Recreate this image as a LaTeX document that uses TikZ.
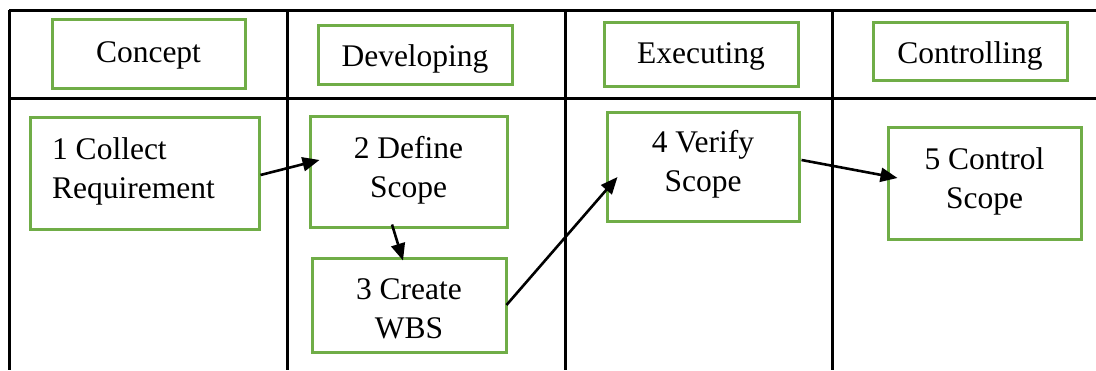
\documentclass[tikz,border=0pt]{standalone}
\usepackage{fontspec}
\setmainfont{Liberation Serif}
\usetikzlibrary{arrows.meta,calc}
\definecolor{boxgreen}{HTML}{70AD47}
\newcommand{\bt}[4]{\raisebox{#2}[0pt][0pt]{\makebox[0pt][c]{\hspace{#1}\begin{tabular}{@{}#3@{}}#4\end{tabular}\hspace{-#1}}}}
\begin{document}
\begin{tikzpicture}[x=1pt,y=-1pt,
  gbox/.style={draw=boxgreen,line width=3pt,rectangle,inner sep=0pt,
    font=\fontsize{31.5pt}{39pt}\selectfont},
  grid/.style={draw=black,line width=3pt},
  flow/.style={draw=black,line width=2.6pt,-{Triangle[length=17pt,width=14pt]}}]
\useasboundingbox (0,0) rectangle (1096,370);
% table lines
\draw[grid] (9,10) -- (1096,10);
\draw[grid] (9,98) -- (1096,98);
\draw[grid] (9,10) -- (9,370);
\draw[grid] (287,10) -- (287,370);
\draw[grid] (565,10) -- (565,370);
\draw[grid] (832,10) -- (832,370);
% headers
\node[gbox,minimum width=193pt,minimum height=69pt] (h1) at (148.5,53.5) {\bt{0pt}{-7.5pt}{c}{Concept}};
\node[gbox,minimum width=194pt,minimum height=59pt] (h2) at (415,54.5) {\bt{0pt}{-10.5pt}{c}{Developing}};
\node[gbox,minimum width=194pt,minimum height=64pt] (h3) at (701,54) {\bt{0pt}{-8pt}{c}{Executing}};
\node[gbox,minimum width=194pt,minimum height=58pt] (h4) at (970,51) {\bt{0pt}{-11pt}{c}{Controlling}};
% process boxes
\node[gbox,minimum width=229pt,minimum height=112pt] (n1) at (144.5,173) {\bt{-11pt}{-4pt}{l}{1 Collect\\Requirement}};
\node[gbox,minimum width=197pt,minimum height=111pt] (n2) at (408.5,171.5) {\bt{0pt}{-4.5pt}{c}{2 Define\\Scope}};
\node[gbox,minimum width=194pt,minimum height=94pt] (n3) at (409,305) {\bt{0pt}{-12pt}{c}{3 Create\\WBS}};
\node[gbox,minimum width=192pt,minimum height=109pt] (n4) at (703,166.5) {\bt{0pt}{-3.5pt}{c}{4 Verify\\Scope}};
\node[gbox,minimum width=193pt,minimum height=112pt] (n5) at (984.5,183) {\bt{0pt}{-4.5pt}{c}{5 Control\\Scope}};
% arrows
\draw[flow] ($(n1.east)+(0,2)$) -- ($(n2.west)+(11,-11.5)$);
\draw[flow] ($(n2.south)+(-16.5,-4)$) -- ($(n3.north)+(-6,4)$);
\draw[flow] ($(n3.east)+(-1,0)$) -- ($(n4.west)+(12,10.5)$);
\draw[flow] ($(n4.east)+(1,-6.5)$) -- ($(n5.west)+(11,-5)$);
\end{tikzpicture}
\end{document}
